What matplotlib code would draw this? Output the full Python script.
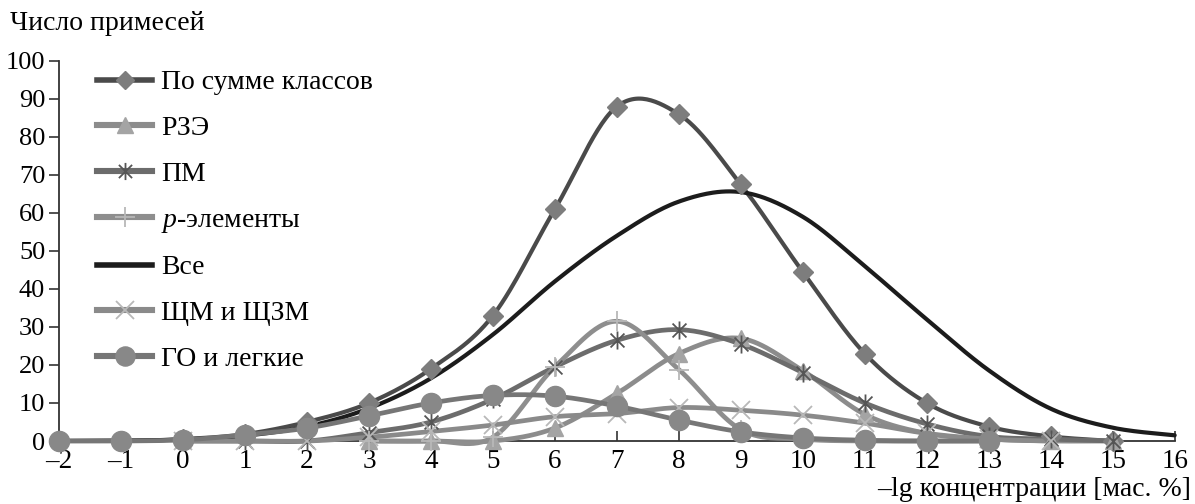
import numpy as np
import matplotlib
matplotlib.use("Agg")
import matplotlib.pyplot as plt
from matplotlib.path import Path

# values, x = -lg concentration
x_sum = [-2, -1, 0, 1, 2, 3, 4, 5, 6, 7, 8, 9, 10, 11, 12, 13, 14, 15]
y_sum = [0, 0, 0.5, 1.8, 5, 10, 19, 33, 61, 88, 86, 67.5, 44.5, 23, 10, 3.8, 1.2, 0]

x_ree = [3, 4, 5, 6, 7, 8, 9, 10, 11, 12, 13, 14, 15]
y_ree = [0, 0, 0, 3.4, 12.5, 23, 27, 18.5, 7, 2, 0.5, 0, 0]

x_pm = [0, 1, 2, 3, 4, 5, 6, 7, 8, 9, 10, 11, 12, 13, 14, 15]
y_pm = [0, 0, 0, 2.2, 5, 11, 19.5, 26.5, 29.3, 25.5, 18, 10, 4.5, 1.2, 0.5, 0]

x_p = [3, 4, 5, 6, 7, 8, 9, 10, 11, 12, 13]
y_p = [0, 0, 1, 19.5, 31.5, 18.8, 3, 0.5, 0, 0, 0]

x_all = [-2, -1, 0, 1, 2, 3, 4, 5, 6, 7, 8, 9, 10, 11, 12, 13, 14, 15, 16]
y_all = [0, 0.1, 0.4, 1.4, 3.8, 8.6, 16.5, 28, 42, 54, 63, 65.5, 59, 46, 32, 18.6, 8.5, 3.5, 1.5]

x_alk = [0, 1, 2, 3, 4, 5, 6, 7, 8, 9, 10, 11, 12, 13, 14]
y_alk = [0, 0, 0, 1, 2.5, 4.2, 6.4, 7.2, 8.8, 8.1, 6.8, 4.7, 2, 0.5, 0]

x_gas = [-2, -1, 0, 1, 2, 3, 4, 5, 6, 7, 8, 9, 10, 11, 12, 13]
y_gas = [0, 0, 0.3, 1.6, 3.4, 6.6, 10, 12, 11.8, 9.2, 5.5, 2.4, 0.8, 0.2, 0, 0]

x_ticks = list(range(-2, 17))
x_tick_labels = [("\u2013" + str(-v)) if v < 0 else str(v) for v in x_ticks]
y_ticks = list(range(0, 101, 10))

plt.rcParams['font.family'] = ['Liberation Serif', 'DejaVu Serif']
plt.rcParams['mathtext.fontset'] = 'custom'
plt.rcParams['mathtext.it'] = 'Liberation Serif:italic'
plt.rcParams['mathtext.rm'] = 'Liberation Serif'

FS = 20


def smooth(xs, ys, n=30):
    # excel style smoothed line: bezier segments with catmull-rom control points
    pts = np.column_stack([xs, ys]).astype(float)
    out = [pts[0]]
    t = np.linspace(0, 1, n)[1:, None]
    for i in range(len(pts) - 1):
        p0 = pts[max(i - 1, 0)]
        p1 = pts[i]
        p2 = pts[i + 1]
        p3 = pts[min(i + 2, len(pts) - 1)]
        c1 = p1 + (p2 - p0) / 6
        c2 = p2 - (p3 - p1) / 6
        seg = ((1 - t) ** 3) * p1 + 3 * ((1 - t) ** 2) * t * c1 + 3 * (1 - t) * t ** 2 * c2 + t ** 3 * p2
        out.extend(seg)
    out = np.array(out)
    return out[:, 0], out[:, 1]


# excel-like star marker: X plus vertical bar
star = Path([(-1, -1), (1, 1), (-1, 1), (1, -1), (0, -1.3), (0, 1.3)],
            [Path.MOVETO, Path.LINETO, Path.MOVETO, Path.LINETO, Path.MOVETO, Path.LINETO])

fig = plt.figure(figsize=(11.95, 5.04), dpi=100)
ax = fig.add_axes([0.0494, 0.125, 0.9336, 0.754])

series = [
    (x_sum, y_sum, "По сумме классов", '#4a4a4a', 3.0, 'D', 10, '#7d7d7d', '#7d7d7d', 1),
    (x_ree, y_ree, "РЗЭ", '#8c8c8c', 3.4, '^', 12, '#a4a4a4', '#a4a4a4', 1),
    (x_pm, y_pm, "ПМ", '#6c6c6c', 3.4, star, 13, 'none', '#555555', 1.3),
    (x_p, y_p, "$p$-элементы", '#8e8e8e', 3.4, '+', 15, 'none', '#b8b8b8', 1.3),
    (x_all, y_all, "Все", '#1c1c1c', 3.0, None, 0, 'none', 'none', 1),
    (x_alk, y_alk, "ЩМ и ЩЗМ", '#8a8a8a', 3.4, 'x', 13, 'none', '#b8b8b8', 1.3),
    (x_gas, y_gas, "ГО и легкие", '#767676', 3.4, 'o', 14.5, '#888888', '#888888', 1),
]

for xs, ys, label, lc, lw, mk, ms, mfc, mec, mew in series:
    sx, sy = smooth(xs, ys)
    ax.plot(sx, sy, color=lc, lw=lw, solid_capstyle='round', clip_on=False, zorder=2)
    if mk is not None:
        ax.plot(xs, ys, linestyle='none', marker=mk, markersize=ms, markerfacecolor=mfc,
                markeredgecolor=mec, markeredgewidth=mew, clip_on=False, zorder=3)
    # proxy for legend
    ax.plot([], [], color=lc, lw=lw + 1, marker=mk, markersize=ms * 0.95,
            markerfacecolor=mfc, markeredgecolor=mec, markeredgewidth=mew, label=label)

ax.set_xlim(-2, 16)
ax.set_ylim(0, 100)
ax.set_xticks(x_ticks)
ax.set_xticklabels(x_tick_labels)
ax.set_yticks(y_ticks)

for s in ['top', 'right']:
    ax.spines[s].set_visible(False)
for s in ['left', 'bottom']:
    ax.spines[s].set_color('#333333')
    ax.spines[s].set_linewidth(1.3)
    ax.spines[s].set_zorder(1)

ax.tick_params(axis='x', direction='in', length=7, width=1.2, color='#333333', pad=6, labelsize=19.5)
ax.tick_params(axis='y', direction='out', length=7, width=1.2, color='#333333', pad=3, labelsize=19)

leg = ax.legend(loc='upper left', bbox_to_anchor=(0.019, 1.02), frameon=False, fontsize=FS,
                handlelength=2.0, handletextpad=0.3, labelspacing=0.73, numpoints=1,
                borderaxespad=0.2)

fig.text(10 / 1195, 1 - 24 / 504, "Число примесей", fontsize=FS, ha='left', va='center')
fig.text(1191 / 1195, 1 - 489 / 504, "\u2013lg концентрации [мас. %]", fontsize=FS,
         ha='right', va='center')

fig.savefig("out.png", dpi=100)
